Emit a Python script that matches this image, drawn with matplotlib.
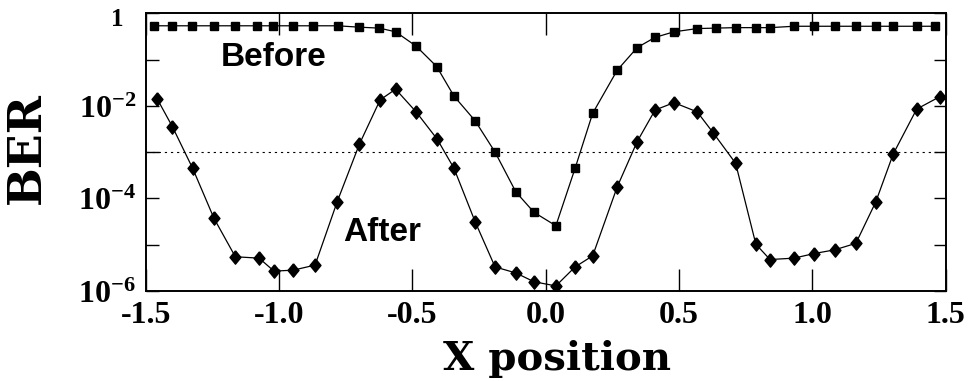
import numpy as np
import matplotlib
matplotlib.use("Agg")
import matplotlib.pyplot as plt
from matplotlib.ticker import FixedLocator, FixedFormatter

# values (x position, log10 of BER)
x_before = [-1.469, -1.400, -1.325, -1.244, -1.165, -1.082, -1.022, -0.949,
            -0.872, -0.780, -0.699, -0.624, -0.563, -0.486, -0.409, -0.344,
            -0.265, -0.190, -0.112, -0.044, 0.038, 0.110, 0.176, 0.268,
            0.343, 0.410, 0.481, 0.568, 0.637, 0.712, 0.788, 0.841,
            0.931, 1.007, 1.084, 1.163, 1.238, 1.303, 1.391, 1.460]
logber_before = [-0.27, -0.27, -0.27, -0.27, -0.27, -0.27, -0.27, -0.27,
                 -0.27, -0.27, -0.30, -0.32, -0.40, -0.71, -1.15, -1.79,
                 -2.32, -3.00, -3.86, -4.30, -4.59, -3.35, -2.16, -1.23,
                 -0.74, -0.52, -0.40, -0.33, -0.32, -0.31, -0.31, -0.31,
                 -0.28, -0.28, -0.28, -0.28, -0.28, -0.28, -0.28, -0.28]

x_after = [-1.456, -1.400, -1.324, -1.244, -1.164, -1.075, -1.019, -0.947,
           -0.865, -0.782, -0.699, -0.621, -0.563, -0.486, -0.407, -0.344,
           -0.265, -0.190, -0.112, -0.044, 0.038, 0.110, 0.176, 0.268,
           0.343, 0.410, 0.481, 0.568, 0.629, 0.712, 0.788, 0.841,
           0.931, 1.007, 1.084, 1.163, 1.238, 1.303, 1.391, 1.478]
logber_after = [-1.86, -2.45, -3.35, -4.43, -5.26, -5.29, -5.57, -5.55,
                -5.44, -4.07, -2.83, -1.87, -1.64, -2.13, -2.72, -3.35,
                -4.50, -5.48, -5.61, -5.80, -5.89, -5.48, -5.24, -3.75,
                -2.77, -2.09, -1.93, -2.13, -2.59, -3.24, -4.99, -5.32,
                -5.29, -5.19, -5.11, -4.97, -4.07, -3.04, -2.07, -1.80]

ber_limit = 1e-3

x_ticks = [-1.5, -1.0, -0.5, 0.0, 0.5, 1.0, 1.5]
x_ticklabels = ["-1.5", "-1.0", "-0.5", "0.0", "0.5", "1.0", "1.5"]
y_ticks = [1, 1e-1, 1e-2, 1e-3, 1e-4, 1e-5, 1e-6]
# the "1" at the top is drawn separately, it is smaller in the original
y_ticklabels = ["", "", r"$\mathbf{10^{-2}}$", "",
                r"$\mathbf{10^{-4}}$", "", r"$\mathbf{10^{-6}}$"]

plt.rcParams["mathtext.fontset"] = "custom"
plt.rcParams["mathtext.bf"] = "Liberation Serif:bold"
plt.rcParams["mathtext.rm"] = "Liberation Serif:bold"

fig = plt.figure(figsize=(9.69, 3.81), dpi=100)
ax = fig.add_axes([0.1504, 0.2362, 0.8256, 0.7289])

diamond = [(0, 1), (0.82, 0), (0, -1), (-0.82, 0), (0, 1)]

ax.plot(x_before, 10 ** np.array(logber_before), color="black", lw=0.9,
        marker="s", markersize=5.8)
ax.plot(x_after, 10 ** np.array(logber_after), color="black", lw=0.9,
        marker=diamond, markersize=9.6)
ax.axhline(ber_limit, color="black", lw=0.8, ls=(0, (2, 3.5)))

ax.set_yscale("log")
ax.set_xlim(-1.5, 1.5)
ax.set_ylim(1e-6, 1)

ax.xaxis.set_major_locator(FixedLocator(x_ticks))
ax.xaxis.set_major_formatter(FixedFormatter(x_ticklabels))
ax.yaxis.set_major_locator(FixedLocator(y_ticks))
ax.yaxis.set_major_formatter(FixedFormatter(y_ticklabels))
ax.yaxis.set_minor_locator(FixedLocator([]))

ax.tick_params(axis="x", direction="in", length=16, width=1, top=True,
               pad=7, labelsize=23)
ax.tick_params(axis="y", direction="in", length=9, width=1, right=True,
               pad=7, labelsize=23)
for lab in ax.get_xticklabels():
    lab.set_fontfamily("Liberation Serif")
    lab.set_fontweight("bold")

ax.text(-0.028, 10 ** -0.13, "1", transform=ax.get_yaxis_transform(),
        fontfamily="Liberation Serif", fontweight="bold", fontsize=18,
        ha="right", va="center")

for s in ax.spines.values():
    s.set_linewidth(1.4)

ax.set_xlabel("X position", fontfamily="DejaVu Serif", fontweight="bold",
              fontsize=29)
ax.xaxis.set_label_coords(0.514, -0.177)
ax.set_ylabel("BER", fontfamily="DejaVu Serif", fontweight="bold",
              fontsize=33)
ax.yaxis.set_label_coords(-0.12, 0.515)

ax.text(-1.019, 10 ** -0.95, "Before", fontfamily="Liberation Sans",
        fontweight="bold", fontsize=24, ha="center", va="center")
ax.text(-0.614, 10 ** -4.73, "After", fontfamily="Liberation Sans",
        fontweight="bold", fontsize=24, ha="center", va="center")

fig.savefig("out.png", dpi=100)
